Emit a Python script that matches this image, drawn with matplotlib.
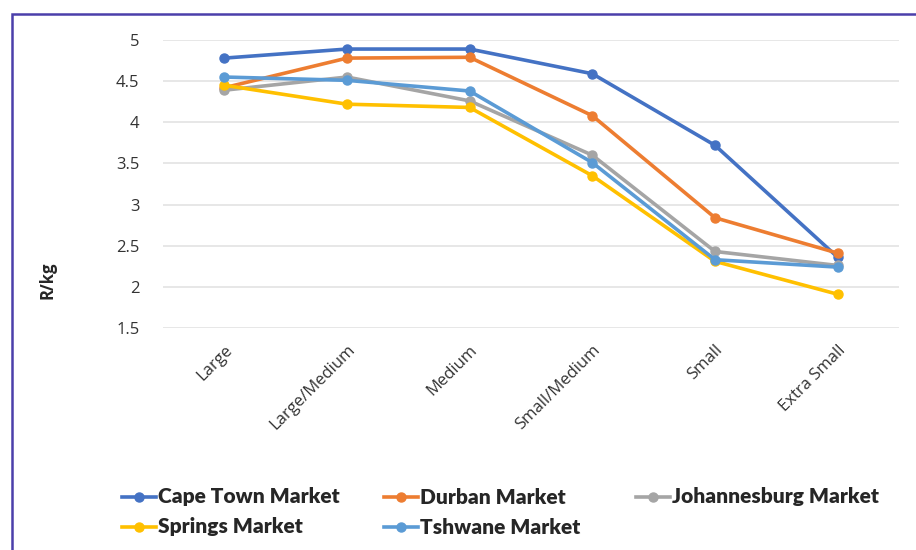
import matplotlib.pyplot as plt
from matplotlib.patches import Rectangle
from matplotlib.lines import Line2D

# Data (R/kg by size class)
sizes = ["Large", "Large/Medium", "Medium", "Small/Medium", "Small", "Extra Small"]
cape_town = [4.78, 4.89, 4.89, 4.59, 3.72, 2.36]
durban = [4.42, 4.78, 4.79, 4.08, 2.84, 2.41]
johannesburg = [4.39, 4.55, 4.26, 3.60, 2.43, 2.26]
springs = [4.45, 4.22, 4.18, 3.35, 2.31, 1.91]
tshwane = [4.55, 4.51, 4.38, 3.51, 2.33, 2.24]

series = [
    ("Cape Town Market", cape_town, "#4472C4"),
    ("Durban Market", durban, "#ED7D31"),
    ("Johannesburg Market", johannesburg, "#A5A5A5"),
    ("Springs Market", springs, "#FFC000"),
    ("Tshwane Market", tshwane, "#5B9BD5"),
]

plt.rcParams['font.family'] = ['Open Sans', 'DejaVu Sans']

W, H = 916, 550
fig = plt.figure(figsize=(W / 100, H / 100), dpi=100)

# purple frame, running off the right and bottom edges
fig.patches.append(Rectangle((12 / W, -0.05), 1.1, 1 - 14 / H + 0.05,
                             transform=fig.transFigure, fill=False,
                             edgecolor="#4B3FAA", linewidth=1.8))

ax = fig.add_axes([163 / W, 1 - 328 / H, (899 - 163) / W, (328 - 40) / H])

x = list(range(len(sizes)))
for name, vals, col in series:
    ax.plot(x, vals, color=col, linewidth=2.6, marker="o", markersize=6.5,
            label=name, solid_capstyle="round")

ax.set_xlim(-0.5, len(sizes) - 0.5)
ax.set_ylim(1.5, 5)
ax.set_yticks([1.5, 2, 2.5, 3, 3.5, 4, 4.5, 5])
ax.set_yticklabels(["1.5", "2", "2.5", "3", "3.5", "4", "4.5", "5"])
ax.grid(axis="y", color="#E3E3E3", linewidth=1.2)
ax.set_axisbelow(True)
for s in ax.spines.values():
    s.set_visible(False)
ax.tick_params(axis="both", length=0, labelsize=12, colors="#333333")
ax.tick_params(axis="y", pad=17)

ax.set_xticks(x)
ax.set_xticklabels(sizes, rotation=45, ha="right", rotation_mode="anchor")
ax.tick_params(axis="x", pad=10)

fig.text(47 / W, 1 - 280 / H, "R/kg", rotation=90, ha="center", va="center",
         fontsize=12, fontweight="bold", color="#262626")

# legend
cols = [122, 384, 636]
rows = [497, 527]
for i, (name, vals, col) in enumerate(series):
    lx = cols[i % 3] / W
    ly = 1 - rows[i // 3] / H
    fig.add_artist(Line2D([lx, lx + 34 / W], [ly, ly], transform=fig.transFigure,
                          color=col, linewidth=2.6))
    fig.add_artist(Line2D([lx + 17 / W], [ly], transform=fig.transFigure,
                          color=col, marker="o", markersize=6.5, linestyle="none"))
    fig.text(lx + 36 / W, ly, name, ha="left", va="center", fontsize=15,
             fontweight="heavy", color="#262626", family=["Lato", "DejaVu Sans"])

fig.savefig("out.png", dpi=100)
